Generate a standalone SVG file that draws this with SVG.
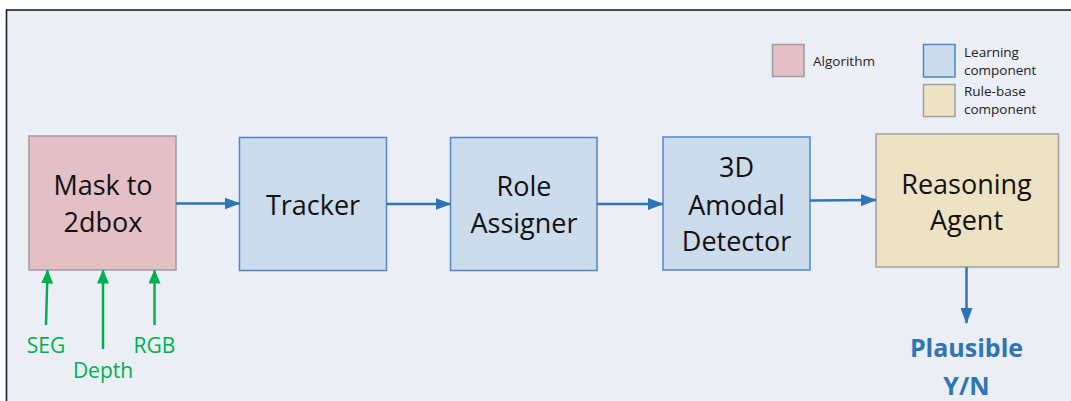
<svg xmlns="http://www.w3.org/2000/svg" width="1071" height="401" viewBox="0 0 1071 401">
<defs>
<style>
.bg{fill:#EBEEF4;stroke:#1E1E1E;stroke-width:1.6}
.alg{fill:#E3C0C6;stroke:#9C9C9C;stroke-width:1.5}
.lrn{fill:#CCDCEC;stroke:#4F86C6;stroke-width:1.5}
.rul{fill:#EDE3C4;stroke:#A0A0A0;stroke-width:1.5}
.t{font-family:"Open Sans","Liberation Sans",sans-serif;font-size:27px;fill:#111;text-anchor:middle}
.lg{font-family:"Open Sans","Liberation Sans",sans-serif;font-size:13.5px;fill:#222}
.in{font-family:"Open Sans","Liberation Sans",sans-serif;font-size:21px;fill:#00B050;text-anchor:middle}
.out{font-family:"Open Sans","Liberation Sans",sans-serif;font-size:25px;font-weight:bold;fill:#2E75B6;text-anchor:middle}
.ba{stroke:#2E75B6;stroke-width:2.5;fill:none;marker-end:url(#ab)}
.ga{stroke:#00B050;stroke-width:2.5;fill:none;marker-end:url(#ag)}
</style>
<marker id="ab" markerUnits="userSpaceOnUse" markerWidth="16" markerHeight="12" refX="15" refY="6" orient="auto"><path d="M0,0 L16,6 L0,12 Z" fill="#2E75B6"/></marker>
<marker id="ag" markerUnits="userSpaceOnUse" markerWidth="14" markerHeight="12" refX="13" refY="6" orient="auto"><path d="M0,0 L14,6 L0,12 Z" fill="#00B050"/></marker>
</defs>
<rect x="0" y="0" width="1071" height="401" fill="#FFFFFF"/>
<rect class="bg" x="6.5" y="10" width="1090" height="420"/>

<g id="legend">
<rect class="alg" x="772.5" y="44.5" width="31.5" height="32"/>
<text class="lg" x="813" y="66">Algorithm</text>
<rect class="lrn" x="923.5" y="44.5" width="31.5" height="32.5"/>
<text class="lg" x="964" y="56.5">Learning</text>
<text class="lg" x="964" y="75">component</text>
<rect class="rul" x="923.5" y="84.5" width="31.5" height="32"/>
<text class="lg" x="964" y="95.5">Rule-base</text>
<text class="lg" x="964" y="113.5">component</text>
</g>

<g id="mask">
<rect class="alg" x="29" y="136" width="147" height="134"/>
<text class="t" x="103" y="195">Mask to</text>
<text class="t" x="103" y="232">2dbox</text>
</g>
<g id="tracker">
<rect class="lrn" x="239.5" y="137.5" width="147" height="133"/>
<text class="t" x="313" y="215">Tracker</text>
</g>
<g id="role">
<rect class="lrn" x="450.5" y="137.5" width="146.5" height="133"/>
<text class="t" x="524" y="196">Role</text>
<text class="t" x="524" y="232.5">Assigner</text>
</g>
<g id="amodal">
<rect class="lrn" x="663" y="137" width="147" height="133"/>
<text class="t" x="736.5" y="177">3D</text>
<text class="t" x="736.5" y="214.5">Amodal</text>
<text class="t" x="736.5" y="251">Detector</text>
</g>
<g id="reasoning">
<rect class="rul" x="876" y="134" width="182.5" height="133"/>
<text class="t" x="966.5" y="194">Reasoning</text>
<text class="t" x="966.5" y="230">Agent</text>
</g>

<g id="inputs">
<text class="in" x="46" y="353">SEG</text>
<text class="in" x="103" y="378">Depth</text>
<text class="in" x="154.5" y="353">RGB</text>
</g>
<g id="output">
<text class="out" x="966.5" y="357">Plausible</text>
<text class="out" x="966.5" y="395">Y/N</text>
</g>

<g id="connectors">
<line class="ba" x1="176" y1="203.5" x2="239.5" y2="203.5"/>
<line class="ba" x1="386.5" y1="204" x2="450.5" y2="204"/>
<line class="ba" x1="597" y1="204" x2="663" y2="204"/>
<line class="ba" x1="810" y1="200.5" x2="876" y2="200"/>
<line class="ba" x1="966.5" y1="267" x2="966.5" y2="323"/>
<line class="ga" x1="46" y1="325" x2="47.5" y2="270.5"/>
<line class="ga" x1="103" y1="349" x2="103" y2="270.5"/>
<line class="ga" x1="154.5" y1="325" x2="154.5" y2="270.5"/>
</g>
</svg>
